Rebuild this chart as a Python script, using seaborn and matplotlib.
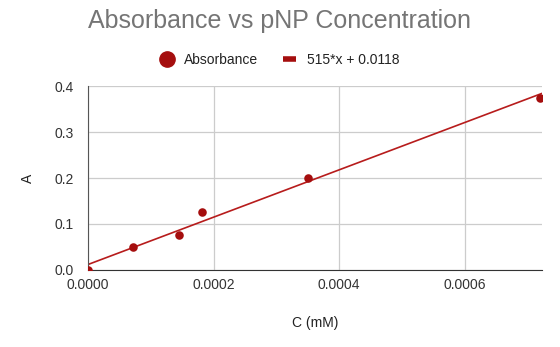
import numpy as np
import pandas as pd
import matplotlib
matplotlib.use('Agg')
import matplotlib.pyplot as plt
from matplotlib.lines import Line2D
import seaborn as sns

# 数据
conc = [0.0, 0.0000719, 0.000145, 0.000182, 0.00035, 0.000719]
absorb = [0.0, 0.05, 0.075, 0.125, 0.2, 0.375]
slope = 515
intercept = 0.0118
x_max = 0.000723

df = pd.DataFrame({'C': conc, 'A': absorb})
fit_x = [0.0, x_max]
fit_df = pd.DataFrame({'C': fit_x, 'A': [slope * v + intercept for v in fit_x]})

sns.set_style('white')
plt.rcParams['font.family'] = ['Liberation Sans', 'DejaVu Sans']

fig = plt.figure(figsize=(5.6, 3.47), dpi=100)
ax = fig.add_axes([0.157, 0.222, 0.811, 0.530])

red = '#a50e0e'
sns.lineplot(data=fit_df, x='C', y='A', ax=ax, color='#b71c1c', linewidth=1.2, legend=False)
sns.scatterplot(data=df, x='C', y='A', ax=ax, color=red, s=38, edgecolor=red,
                linewidth=0, zorder=5, legend=False)

ax.set_xlim(0, x_max)
ax.set_ylim(0, 0.4)
ax.set_xticks([0, 0.0002, 0.0004, 0.0006])
ax.set_xticklabels(['0.0000', '0.0002', '0.0004', '0.0006'])
ax.set_yticks([0, 0.1, 0.2, 0.3, 0.4])
ax.set_yticklabels(['0.0', '0.1', '0.2', '0.3', '0.4'])
ax.tick_params(axis='both', length=0, labelsize=10, colors='#333333')
ax.tick_params(axis='x', pad=6)
ax.tick_params(axis='y', pad=10)
ax.grid(True, color='#cccccc', linewidth=0.9)
ax.set_axisbelow(True)
for s in ['top', 'right']:
    ax.spines[s].set_visible(False)
ax.spines['left'].set_color('#555555')
ax.spines['bottom'].set_color('#333333')

ax.set_xlabel('C (mM)', fontsize=10, color='#222222', labelpad=17)
ax.set_ylabel('A', fontsize=10, color='#222222', labelpad=14)

fig.suptitle('Absorbance vs pNP Concentration', fontsize=18, color='#757575', y=0.975)

handles = [
    Line2D([], [], marker='o', linestyle='none', color=red, markersize=11),
    Line2D([], [], color=red, linewidth=4, solid_capstyle='butt'),
]
labels = ['Absorbance', '515*x + 0.0118']
leg = fig.legend(handles, labels, loc='center', bbox_to_anchor=(0.5, 0.827), ncol=2,
                 frameon=False, fontsize=10, handlelength=0.9, columnspacing=1.8,
                 handletextpad=0.8)
for t in leg.get_texts():
    t.set_color('#222222')

fig.savefig('out.png', dpi=100)
